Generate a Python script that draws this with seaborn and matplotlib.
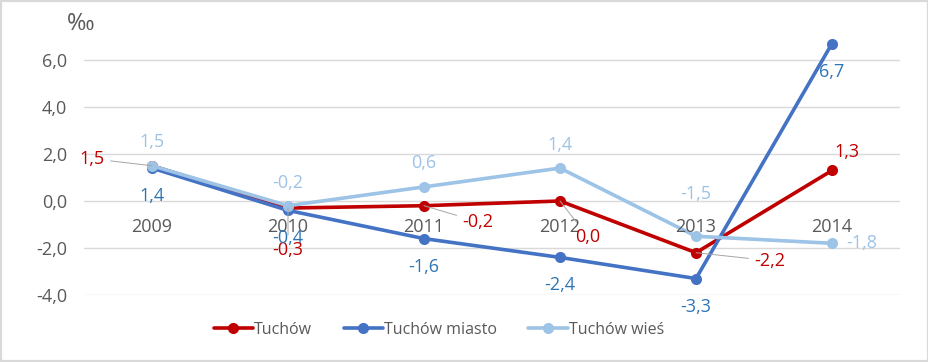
"""Przyrost naturalny - Tuchów, miasto i wieś."""
from matplotlib import pyplot as plt
from matplotlib.patches import Rectangle
import pandas as pd
import seaborn as sns

years = ["2009", "2010", "2011", "2012", "2013", "2014"]
tuchow = [1.5, -0.3, -0.2, 0.0, -2.2, 1.3]
tuchow_miasto = [1.4, -0.4, -1.6, -2.4, -3.3, 6.7]
tuchow_wies = [1.5, -0.2, 0.6, 1.4, -1.5, -1.8]
series_names = ["Tuchów", "Tuchów miasto", "Tuchów wieś"]

line_colors = ["#C00000", "#4472C4", "#9DC3E6"]
label_colors = ["#C00000", "#2E75B6", "#9DC3E6"]
# przesunięcia etykiet danych w pikselach (dx, dy) i czy jest linia odniesienia
label_offsets = [
    [(-60, 7, True), (0, -42, True), (54, -16, True), (28, -36, True), (74, -8, True), (15, 18, False)],
    [(0, -28, False)] * 6,
    [(0, 24, False), (0, 23, False), (0, 24, False), (0, 23, False), (0, 42, False), (30, 0, False)],
]

df = pd.DataFrame({
    "rok": list(range(len(years))) * 3,
    "wartosc": tuchow + tuchow_miasto + tuchow_wies,
    "seria": [n for n in series_names for _ in years],
})

sns.set_style("white")
plt.rcParams["font.family"] = ["Open Sans", "DejaVu Sans"]
fs = 13

fig = plt.figure(figsize=(9.29, 3.62), dpi=100)
ax = fig.add_axes([84 / 929, 1 - 295 / 362, 816 / 929, 282 / 362])

sns.lineplot(data=df, x="rok", y="wartosc", hue="seria", palette=line_colors,
             marker="o", markersize=8, markeredgewidth=0, linewidth=2.6,
             ax=ax, legend=True)

ax.set_xlim(-0.5, 5.5)
ax.set_ylim(-4, 8)
ax.set_yticks([-4, -2, 0, 2, 4, 6])
ax.set_yticklabels([f"{t:.1f}".replace(".", ",") for t in [-4, -2, 0, 2, 4, 6]],
                   color="#595959", fontsize=fs)
ax.tick_params(axis="y", length=0, pad=12)
ax.set_xticks([])
ax.set_xlabel("")
ax.set_ylabel("")
ax.grid(axis="y", color="#D9D9D9", linewidth=1)
ax.set_axisbelow(True)
for s in ax.spines.values():
    s.set_visible(False)

# etykiety lat przy osi 0
for i, y in enumerate(years):
    ax.annotate(y, (i, 0), xytext=(0, -26), textcoords="offset pixels",
                ha="center", va="center", color="#595959", fontsize=fs)

# etykiety danych
for vals, offs, col in zip([tuchow, tuchow_miasto, tuchow_wies], label_offsets, label_colors):
    for i, v in enumerate(vals):
        dx, dy, leader = offs[i]
        txt = f"{v:.1f}".replace(".", ",")
        arrow = dict(arrowstyle="-", color="#A6A6A6", lw=0.7, shrinkA=2, shrinkB=0) if leader else None
        ax.annotate(txt, (i, v), xytext=(dx, dy), textcoords="offset pixels",
                    ha="center", va="center", color=col, fontsize=fs,
                    arrowprops=arrow)

fig.text(81 / 929, 1 - 24 / 362, "‰", ha="center", va="center", color="#595959", fontsize=17)

handles, labels = ax.get_legend_handles_labels()
for h in handles:
    h.set_markersize(8)
ax.legend(handles, labels, loc="center", bbox_to_anchor=(439 / 929, 1 - 330 / 362),
          bbox_transform=fig.transFigure, ncol=3, frameon=False, fontsize=11.5,
          labelcolor="#595959", handlelength=2.45, handletextpad=0.1, columnspacing=1.95)

fig.patches.append(Rectangle((0, 0), 1, 1, transform=fig.transFigure, fill=False,
                             edgecolor="#D9D9D9", linewidth=3))

fig.savefig("out.png", dpi=100)
